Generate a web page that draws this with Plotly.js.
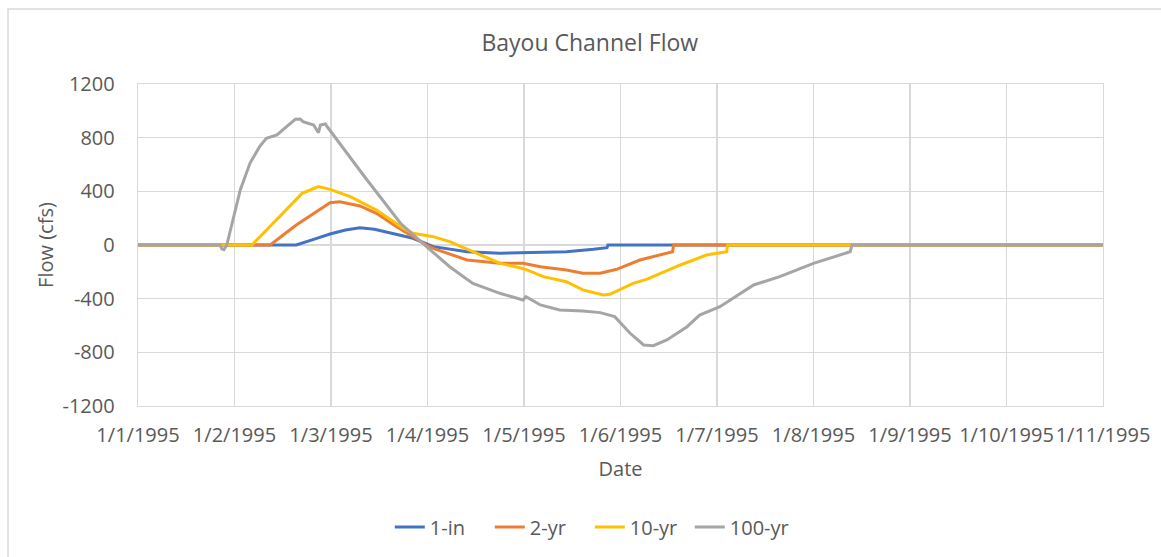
<!DOCTYPE html>
<html>
<head>
<meta charset="utf-8">
<script src="https://cdn.plot.ly/plotly-3.0.1.min.js"></script>
<style>
html, body { margin: 0; padding: 0; background: #fff; }
#chart { width: 1161px; height: 557px; }
</style>
</head>
<body>
<div id="chart"></div>
<script>
// x positions are in months after 1/1/1995 (tick k = 1st of month k+1)
const tickPos = [0, 1, 2, 3, 4, 5, 6, 7, 8, 9, 10];
const tickLabels = ["1/1/1995", "1/2/1995", "1/3/1995", "1/4/1995", "1/5/1995", "1/6/1995",
                    "1/7/1995", "1/8/1995", "1/9/1995", "1/10/1995", "1/11/1995"];
const yTickVals = [1200, 800, 400, 0, -400, -800, -1200];
const yTickText = ["1200", "800", "400", "0", "-400", "-800", "-1200"];

const seriesNames = ["1-in", "2-yr", "10-yr", "100-yr"];

const x1in = [0, 1.64, 1.82, 1.99, 2.15, 2.30, 2.45, 2.61, 2.85, 3.06, 3.41, 3.75, 4.10, 4.44, 4.72, 4.86, 4.87, 10];
const y1in = [0, 0, 42, 82, 112, 129, 118, 92, 50, -12, -50, -62, -57, -50, -32, -20, 0, 0];

const x2yr = [0, 1.37, 1.64, 1.99, 2.09, 2.30, 2.47, 2.68, 2.99, 3.06, 3.41, 3.75, 3.99, 4.17, 4.44, 4.61, 4.79, 4.96, 5.20, 5.48, 5.54, 5.55, 10];
const y2yr = [0, 0, 149, 315, 323, 291, 236, 137, 0, -25, -112, -136, -136, -162, -186, -211, -211, -181, -112, -57, -50, 0, 0];

const x10yr = [0, 1.18, 1.40, 1.70, 1.87, 1.99, 2.20, 2.47, 2.75, 2.85, 3.06, 3.23, 3.47, 3.75, 3.98, 4.03, 4.20, 4.44, 4.61, 4.82, 4.89, 4.99, 5.13, 5.27, 5.62, 5.89, 6.10, 6.11, 10];
const y10yr = [0, 0, 162, 385, 435, 415, 360, 261, 124, 87, 62, 25, -50, -136, -174, -186, -236, -274, -335, -373, -367, -335, -286, -256, -149, -75, -50, 0, 0];

const x100yr = [0, 0.85, 0.87, 0.89, 0.92, 0.99, 1.06, 1.16, 1.26, 1.33, 1.44, 1.54, 1.63, 1.68, 1.71, 1.82, 1.87, 1.89, 1.94, 2.35, 2.72, 2.99, 3.23, 3.47, 3.75, 3.99, 4.02, 4.17, 4.37, 4.61, 4.79, 4.94, 5.10, 5.24, 5.34, 5.48, 5.69, 5.82, 6.03, 6.38, 6.65, 7.00, 7.38, 7.40, 10];
const y100yr = [0, 0, -30, -35, 0, 211, 410, 609, 733, 795, 820, 882, 937, 939, 919, 894, 837, 894, 902, 507, 162, -12, -162, -286, -360, -410, -385, -447, -484, -492, -504, -534, -658, -745, -750, -708, -609, -522, -460, -298, -236, -137, -50, 0, 0];

const colors = ["#4472C4", "#ED7D31", "#FFC000", "#A5A5A5"];
const xs = [x1in, x2yr, x10yr, x100yr];
const ys = [y1in, y2yr, y10yr, y100yr];

const traces = seriesNames.map((n, i) => ({
  type: "scatter", mode: "lines", name: n,
  x: xs[i], y: ys[i],
  line: { color: colors[i], width: 3, shape: "linear" }
}));

const font = "Open Sans, Lato, sans-serif";
const grey = "#595959";
const grid = "#d9d9d9";

const layout = {
  width: 1161, height: 557,
  margin: { l: 138, r: 58, t: 84, b: 151 },
  paper_bgcolor: "#fff", plot_bgcolor: "#fff",
  font: { family: font, color: grey },
  title: { text: "Bayou Channel Flow", font: { size: 23, color: grey, family: font },
           x: 0.508, xref: "container", xanchor: "center",
           y: 0.923, yref: "container", yanchor: "middle" },
  xaxis: {
    range: [0, 10], tickmode: "array", tickvals: tickPos, ticktext: tickLabels,
    tickangle: 0, tickfont: { size: 20, color: grey },
    showgrid: true, gridcolor: grid, gridwidth: 1.3,
    showline: true, linecolor: grid, linewidth: 1.3, mirror: true,
    zeroline: false, ticks: "", ticklabelstandoff: 11,
    title: { text: "Date", font: { size: 20, color: grey }, standoff: 14 },
    fixedrange: true
  },
  yaxis: {
    range: [-1200, 1200], tickmode: "array", tickvals: yTickVals, ticktext: yTickText,
    tickfont: { size: 20, color: grey },
    showgrid: true, gridcolor: grid, gridwidth: 1.3,
    showline: true, linecolor: grid, linewidth: 1.3, mirror: true,
    zeroline: true, zerolinecolor: grid, zerolinewidth: 1.3,
    ticks: "", ticklabelstandoff: 18,
    title: { text: "Flow (cfs)", font: { size: 20, color: grey }, standoff: 3 },
    fixedrange: true
  },
  showlegend: true,
  legend: {
    orientation: "h", xref: "container", yref: "container",
    x: 0.508, xanchor: "center", y: 0.054, yanchor: "middle",
    font: { size: 20, color: grey }, traceorder: "normal",
    entrywidth: 55, entrywidthmode: "pixels"
  },
  shapes: [{
    type: "rect", xref: "paper", yref: "paper",
    x0: -0.1347, x1: 1.3, y0: -1, y1: 1.2329,
    line: { color: "#d9d9d9", width: 1.5 }, fillcolor: "rgba(0,0,0,0)", layer: "below"
  }]
};

Plotly.newPlot("chart", traces, layout, { staticPlot: true, displayModeBar: false });
</script>
</body>
</html>
